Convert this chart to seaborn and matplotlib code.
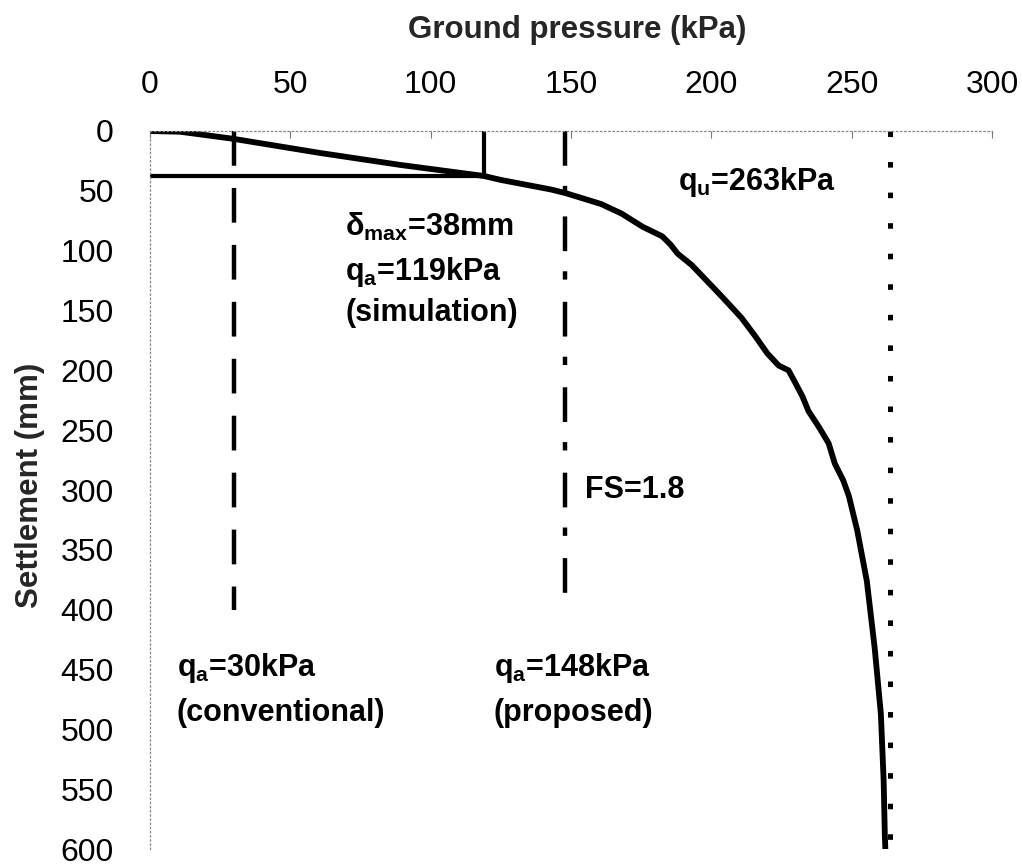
import matplotlib
matplotlib.use("Agg")
import matplotlib.pyplot as plt
import seaborn as sns
import numpy as np
import pandas as pd

# ---- data ----
pressure = [0, 10.7, 29.6, 60.7, 89.3, 119, 125, 142.9, 148.2, 160.7, 168, 175.5, 179, 182.5,
            185.5, 188, 193, 197.5, 204, 210.7, 215.5, 220, 224, 227.5, 229.6, 232.5, 234.6,
            238.5, 241.8, 244, 247, 249, 252, 255.4, 258.2, 260.4, 261.4, 261.8, 262]
settlement = [0, 0.6, 6.5, 18.4, 28.4, 37.6, 40.9, 48.9, 52, 61, 69, 80, 84, 88,
              95, 102.5, 112, 123, 139, 156, 171, 186, 196, 200, 209, 222, 234,
              248, 261, 278, 292, 305, 334, 376, 432, 487, 543, 587, 600]

q_conventional = 30
q_simulation = 119
q_proposed = 148
q_ultimate = 263.5
delta_max = 38
line_depth = 400
x_ticks = [0, 50, 100, 150, 200, 250, 300]
y_ticks = list(range(0, 601, 50))

sns.set_theme(style="white")
plt.rcParams["font.family"] = ["Liberation Sans", "DejaVu Sans"]
plt.rcParams["mathtext.fontset"] = "custom"
plt.rcParams["mathtext.rm"] = "Liberation Sans:bold"
plt.rcParams["mathtext.it"] = "Liberation Sans:bold"
plt.rcParams["mathtext.bf"] = "Liberation Sans:bold"
plt.rcParams["lines.scale_dashes"] = False

fig = plt.figure(figsize=(10.22, 8.66), dpi=100)
ax = fig.add_axes([150 / 1022, 1 - 849 / 866, (992 - 150) / 1022, (849 - 131) / 866])

df = pd.DataFrame({"pressure": pressure, "settlement": settlement})
sns.lineplot(data=df, x="pressure", y="settlement", sort=False, estimator=None,
             color="black", linewidth=4.2, ax=ax)
ax.lines[-1].set_solid_joinstyle("round")

# reference lines
ax.plot([q_conventional, q_conventional], [0, line_depth], color="black", lw=3.2,
        dashes=(25, 16))
ax.plot([q_proposed, q_proposed], [0, line_depth], color="black", lw=3.2,
        dashes=(25, 14.5, 6, 16))
ax.plot([q_ultimate, q_ultimate], [0, 600], color="black", lw=3.6,
        dashes=(4, 18))
ax.plot([q_simulation, q_simulation], [0, delta_max], color="black", lw=3.0)
ax.plot([0, q_simulation], [delta_max, delta_max], color="black", lw=3.0)

ax.set_xlim(0, 300)
ax.set_ylim(600, 0)
ax.xaxis.tick_top()
ax.set_xticks(x_ticks)
ax.set_yticks(y_ticks)
ax.tick_params(axis="both", direction="in", length=5, width=0.8, color="#777777",
               labelsize=23, labelcolor="black")
ax.tick_params(axis="x", pad=22)
ax.tick_params(axis="y", pad=26)
ax.set_xlabel("")
ax.set_ylabel("")

for side in ["bottom", "right"]:
    ax.spines[side].set_visible(False)
for side in ["top", "left"]:
    ax.spines[side].set_linestyle((0, (1, 2)))
    ax.spines[side].set_color("#888888")
    ax.spines[side].set_linewidth(0.9)

fig.text(577 / 1022, 1 - 30 / 866, "Ground pressure (kPa)", ha="center", va="center",
         fontsize=22.5, fontweight="bold")
fig.text(30 / 1022, 1 - 485 / 866, "Settlement (mm)", ha="center", va="center",
         rotation=90, fontsize=22.5, fontweight="bold")

tkw = dict(fontsize=22, fontweight="bold", va="center", ha="left", color="black")
ax.text(69.5, 80, r"δ$_{max}$=38mm", **tkw)
ax.text(69.5, 118, r"q$_{a}$=119kPa", **tkw)
ax.text(69.5, 152, "(simulation)", **tkw)
ax.text(188, 42.5, r"q$_{u}$=263kPa", **tkw)
ax.text(155, 300, "FS=1.8", **tkw)
ax.text(9.6, 449, r"q$_{a}$=30kPa", **tkw)
ax.text(9.6, 486, "(conventional)", **tkw)
ax.text(122.5, 449, r"q$_{a}$=148kPa", **tkw)
ax.text(122.5, 486, "(proposed)", **tkw)

fig.savefig("out.png", dpi=100)
